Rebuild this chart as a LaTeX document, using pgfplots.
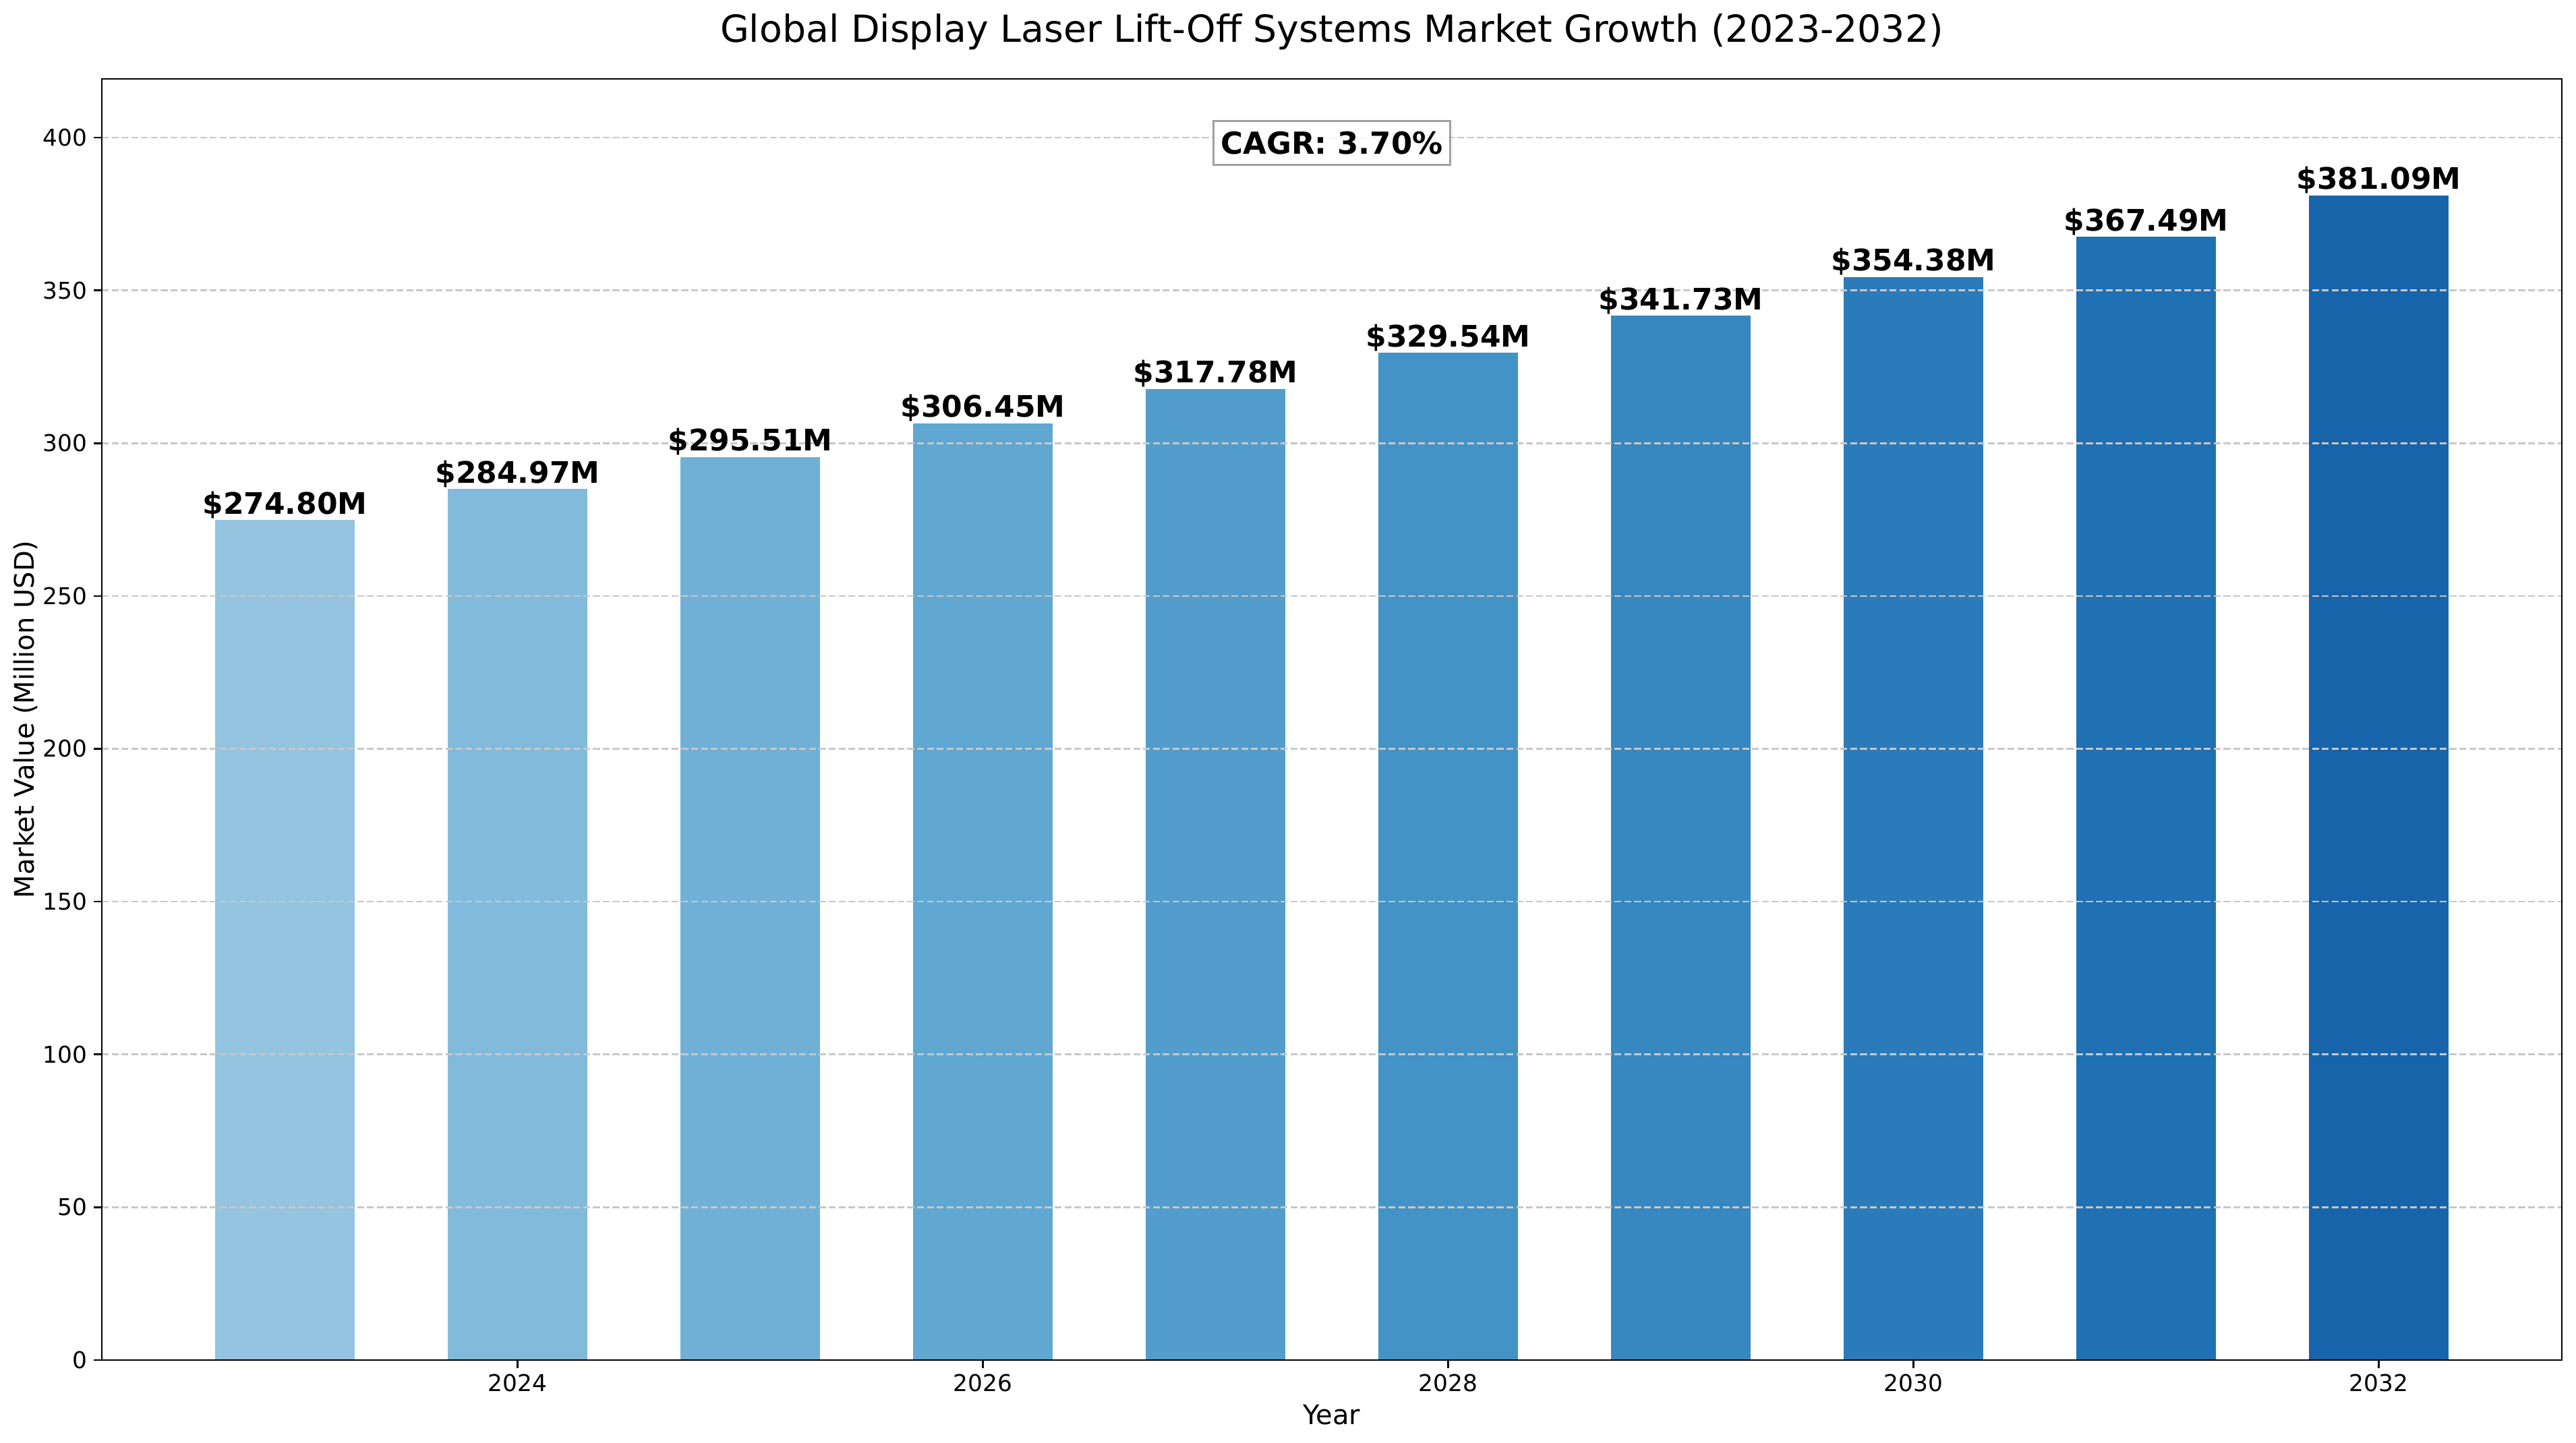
\documentclass[border=0pt]{standalone}
\usepackage{pgfplots}
\pgfplotsset{compat=1.18}
\usepackage{fontspec}
\setmainfont{DejaVu Sans}
\definecolor{c1}{RGB}{148,196,223}
\definecolor{c2}{RGB}{130,186,219}
\definecolor{c3}{RGB}{112,176,215}
\definecolor{c4}{RGB}{96,167,210}
\definecolor{c5}{RGB}{82,157,204}
\definecolor{c6}{RGB}{67,147,198}
\definecolor{c7}{RGB}{55,135,192}
\definecolor{c8}{RGB}{43,123,186}
\definecolor{c9}{RGB}{32,112,180}
\definecolor{c10}{RGB}{23,100,171}
\definecolor{gridc}{RGB}{200,200,200}
\definecolor{boxc}{RGB}{160,160,160}
\begin{document}
\begin{tikzpicture}
\pgfplotsset{
  base/.style={
    scale only axis, width=1094.4pt, height=570pt,
    xmin=2022.213, xmax=2032.787, ymin=0, ymax=419.2,
    at={(0pt,0pt)}, anchor=south west,
  },
  mybar/.style={ybar, bar shift=0pt, bar width=0.6, draw=none, fill=#1},
}
\begin{axis}[base,
  axis on top,
  xtick={2024,2026,2028,2030,2032},
  ytick={0,50,...,400},
  x tick label style={/pgf/number format/1000 sep={}},
  /pgf/number format/assume math mode=true,
  tick pos=left, tick align=outside,
  major tick length=3.6pt,
  every tick/.style={black, line width=0.82pt},
  axis line style={line width=0.82pt, black},
  ymajorgrids,
  major grid style={color=gridc, line width=0.82pt, dash pattern=on 3.05pt off 1.32pt},
  ticklabel style={font=\fontsize{10.3}{12}\selectfont, inner sep=0pt},
  xticklabel style={anchor=base, yshift=-10.5pt},
  yticklabel style={anchor=east, xshift=-2.7pt},
  xlabel={Year}, ylabel={Market Value (Million USD)},
  label style={font=\fontsize{12}{14}\selectfont, inner sep=0pt},
  xlabel style={at={(0.5,-0.050526)}, anchor=base},
  ylabel style={at={(-0.027687,0.5)}, anchor=base},
  title={Global Display Laser Lift-Off Systems Market Growth (2023-2032)},
  title style={at={(0.5,1.0181)}, anchor=base, font=\fontsize{16.6}{20}\selectfont, inner sep=0pt},
]
\addplot[mybar=c1] coordinates {(2023,274.80)};
\addplot[mybar=c2] coordinates {(2024,284.97)};
\addplot[mybar=c3] coordinates {(2025,295.51)};
\addplot[mybar=c4] coordinates {(2026,306.45)};
\addplot[mybar=c5] coordinates {(2027,317.78)};
\addplot[mybar=c6] coordinates {(2028,329.54)};
\addplot[mybar=c7] coordinates {(2029,341.73)};
\addplot[mybar=c8] coordinates {(2030,354.38)};
\addplot[mybar=c9] coordinates {(2031,367.49)};
\addplot[mybar=c10] coordinates {(2032,381.09)};
\end{axis}
\begin{axis}[base, hide axis, clip=false]
\addplot[draw=none, point meta=y,
  nodes near coords={\$\pgfmathprintnumber[fixed,fixed zerofill,precision=2,assume math mode=true]{\pgfplotspointmeta}M},
  every node near coord/.append style={font=\bfseries\fontsize{13.2}{15}\selectfont, anchor=base, inner sep=0pt, yshift=2.7pt, text=black}]
  coordinates {(2023,274.80) (2024,284.97) (2025,295.51) (2026,306.45) (2027,317.78)
               (2028,329.54) (2029,341.73) (2030,354.38) (2031,367.49) (2032,381.09)};
\node[draw=boxc, line width=0.9pt, fill=white, fill opacity=0.8, text opacity=1,
  font=\bfseries\fontsize{13.5}{16}\selectfont, inner xsep=3.3pt, inner ysep=4.6pt]
  at (rel axis cs:0.5,0.95) {CAGR: 3.70\%};
\end{axis}
\pgfresetboundingbox
\path[use as bounding box] (-45.3pt,-36.9pt) rectangle (1100.7pt,605.1pt);
\end{tikzpicture}
\end{document}
